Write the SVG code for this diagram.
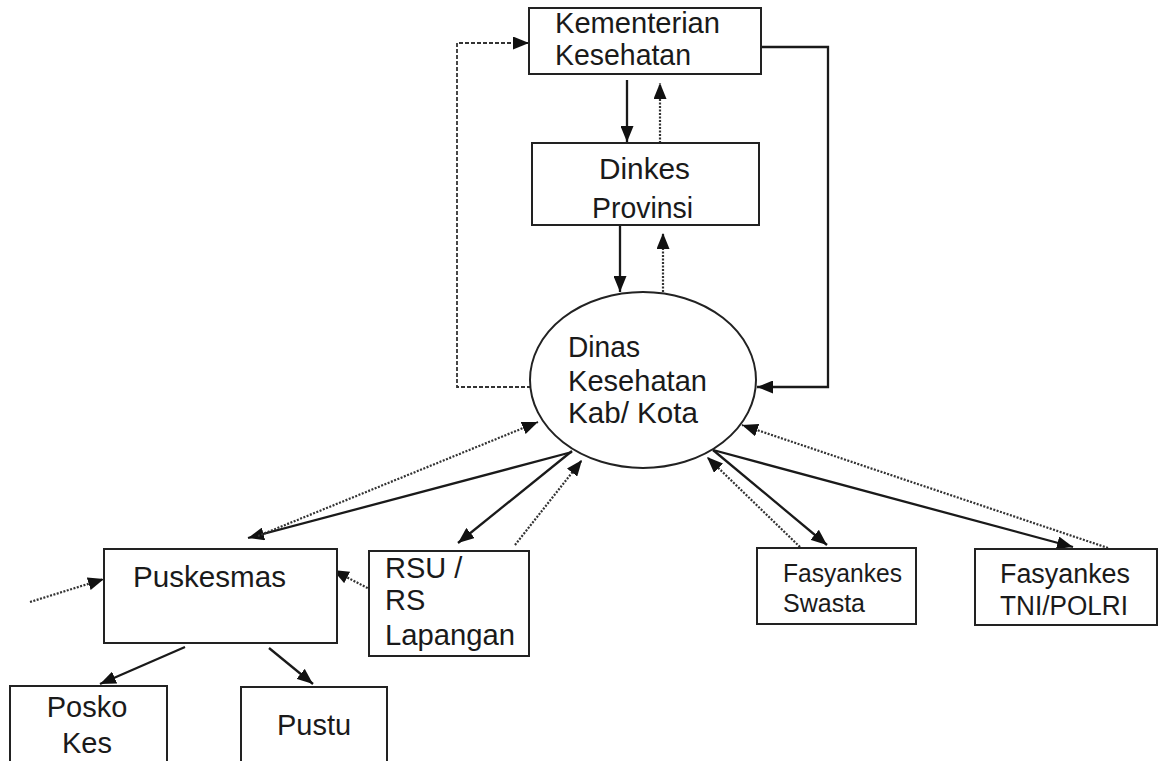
<svg xmlns="http://www.w3.org/2000/svg" width="1161" height="761" viewBox="0 0 1161 761">
<style>
.box{fill:#fff;stroke:#222;stroke-width:2}
.t{font-family:"Liberation Sans",Arial,sans-serif;font-size:29px;fill:#1a1a1a}
.s{fill:none;stroke:#1a1a1a;stroke-width:2.3}
.d{fill:none;stroke:#333;stroke-width:2.2;stroke-dasharray:2 1.5}
.dl{fill:none;stroke:#333;stroke-width:1.8;stroke-dasharray:4 2}
</style>
<defs>
<marker id="ah" markerUnits="userSpaceOnUse" markerWidth="16" markerHeight="13" refX="16" refY="6.5" orient="auto">
<path d="M0,0 L16,6.5 L0,13 z" fill="#111"/>
</marker>
</defs>
<rect width="1161" height="761" fill="#fff"/>
<g id="connectors">
<path class="dl" d="M531,387 H457 V43 H529" marker-end="url(#ah)"/>
<path class="s" d="M761,47 H828 V387 H757" marker-end="url(#ah)"/>
<line class="s" x1="627" y1="80" x2="627" y2="142" marker-end="url(#ah)"/>
<line class="d" x1="660" y1="143" x2="660" y2="83" marker-end="url(#ah)"/>
<line class="s" x1="620" y1="225" x2="620" y2="292" marker-end="url(#ah)"/>
<line class="d" x1="663" y1="292" x2="663" y2="233" marker-end="url(#ah)"/>
<line class="s" x1="572" y1="452" x2="248" y2="538" marker-end="url(#ah)"/>
<line class="d" x1="258" y1="536" x2="538" y2="422" marker-end="url(#ah)"/>
<line class="s" x1="572" y1="451" x2="458" y2="543" marker-end="url(#ah)"/>
<line class="d" x1="515" y1="545" x2="582" y2="460" marker-end="url(#ah)"/>
<line class="s" x1="713" y1="450" x2="827" y2="545" marker-end="url(#ah)"/>
<line class="s" x1="713" y1="450" x2="1073" y2="547" marker-end="url(#ah)"/>
<line class="d" x1="800" y1="547" x2="707" y2="457" marker-end="url(#ah)"/>
<line class="d" x1="1108" y1="548" x2="742" y2="425" marker-end="url(#ah)"/>
<line class="d" x1="30" y1="602" x2="104" y2="579" marker-end="url(#ah)"/>
<line class="d" x1="377" y1="593" x2="333" y2="570" marker-end="url(#ah)"/>
<line class="s" x1="185" y1="647" x2="100" y2="684" marker-end="url(#ah)"/>
<line class="s" x1="269" y1="648" x2="313" y2="684" marker-end="url(#ah)"/>
</g>
<g id="kementerian">
<rect class="box" x="529" y="8" width="232" height="66"/>
<text class="t" x="555" y="33" textLength="165" lengthAdjust="spacingAndGlyphs">Kementerian</text>
<text class="t" x="555" y="65" textLength="136" lengthAdjust="spacingAndGlyphs">Kesehatan</text>
</g>
<g id="dinkes-provinsi">
<rect class="box" x="532" y="143" width="227" height="82"/>
<text class="t" x="599" y="179" textLength="91" lengthAdjust="spacingAndGlyphs">Dinkes</text>
<text class="t" x="592" y="218" textLength="101" lengthAdjust="spacingAndGlyphs">Provinsi</text>
</g>
<g id="dinas-kab-kota">
<ellipse cx="643" cy="380" rx="113" ry="88" fill="#fff" stroke="#222" stroke-width="2"/>
<text class="t" x="568" y="357" textLength="72" lengthAdjust="spacingAndGlyphs">Dinas</text>
<text class="t" x="568" y="391" textLength="139" lengthAdjust="spacingAndGlyphs">Kesehatan</text>
<text class="t" x="568" y="423" textLength="130" lengthAdjust="spacingAndGlyphs">Kab/ Kota</text>
</g>
<g id="puskesmas">
<rect class="box" x="104" y="549" width="233" height="94"/>
<text class="t" x="133" y="587" textLength="153" lengthAdjust="spacingAndGlyphs">Puskesmas</text>
</g>
<g id="rsu">
<rect class="box" x="369" y="551" width="160" height="105"/>
<text class="t" x="385" y="578">RSU /</text>
<text class="t" x="385" y="610">RS</text>
<text class="t" x="385" y="645" textLength="130" lengthAdjust="spacingAndGlyphs">Lapangan</text>
</g>
<g id="fasyankes-swasta">
<rect class="box" x="757" y="548" width="159" height="76"/>
<text class="t" x="783" y="582" style="font-size:25px" textLength="119" lengthAdjust="spacingAndGlyphs">Fasyankes</text>
<text class="t" x="783" y="612" style="font-size:25px">Swasta</text>
</g>
<g id="fasyankes-tni">
<rect class="box" x="975" y="549" width="182" height="76"/>
<text class="t" x="1000" y="583" style="font-size:27px" textLength="130" lengthAdjust="spacingAndGlyphs">Fasyankes</text>
<text class="t" x="1000" y="615" style="font-size:27px" textLength="128" lengthAdjust="spacingAndGlyphs">TNI/POLRI</text>
</g>
<g id="posko-kes">
<rect class="box" x="10" y="686" width="157" height="90"/>
<text class="t" x="87" y="717" text-anchor="middle">Posko</text>
<text class="t" x="87" y="753" text-anchor="middle">Kes</text>
</g>
<g id="pustu">
<rect class="box" x="241" y="687" width="146" height="90"/>
<text class="t" x="314" y="735" text-anchor="middle">Pustu</text>
</g>
</svg>
